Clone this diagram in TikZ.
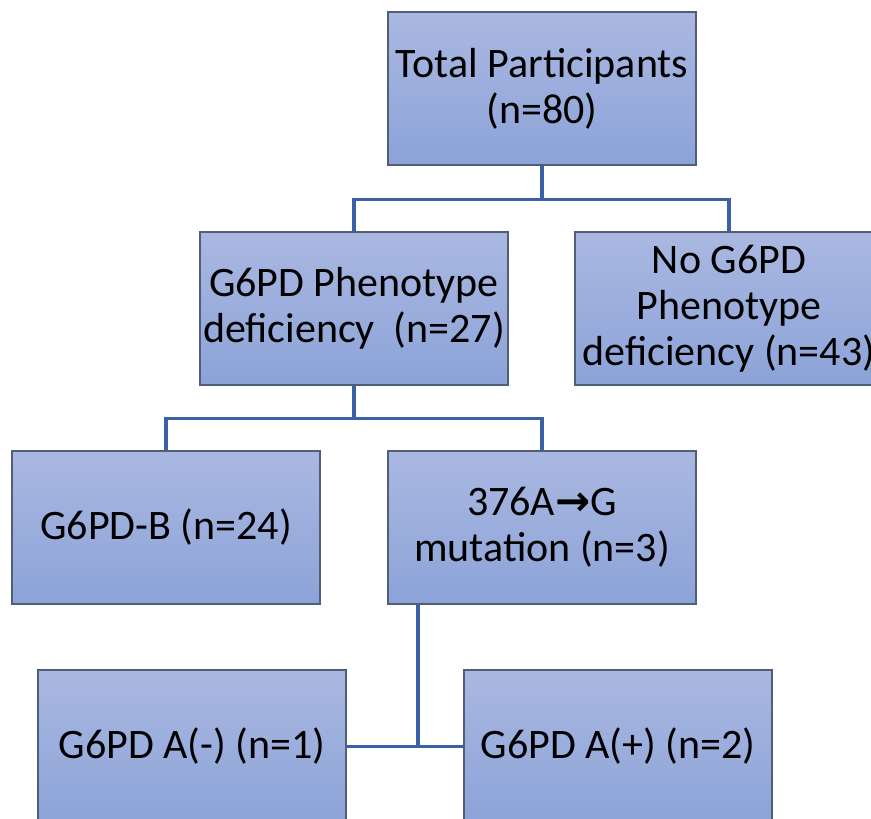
\documentclass[tikz,border=0pt]{standalone}
\usepackage{fontspec}
\setmainfont{Carlito}
\newfontfamily\arrowfont{DejaVu Sans}
\tikzset{every picture/.style={line width=0.75pt}}
\tikzset{
  stagebox/.style={draw={rgb, 255:red, 80; green, 94; blue, 120}, line width=1.1pt,
    top color={rgb, 255:red, 170; green, 184; blue, 225},
    bottom color={rgb, 255:red, 140; green, 163; blue, 216},
    minimum width=231pt, minimum height=114.75pt, inner sep=0pt, align=center,
    font=\fontsize{31.5}{34.5}\selectfont},
  link/.style={draw={rgb, 255:red, 58; green, 96; blue, 165}, line width=2.5pt}
}
\begin{document}
\begin{tikzpicture}[x=0.75pt,y=0.75pt,yscale=-1,xscale=1]
\useasboundingbox (0,0) rectangle (871,818);

% Boxes
\node [stagebox] (total) at (542,88.5) {Total Participants\\(n=80)};
\node [stagebox] (def) at (354,308.5) {G6PD Phenotype\\deficiency\ \ (n=27)};
\node [stagebox] (nodef) at (729,308.5) {No G6PD\\Phenotype\\deficiency (n=43)};
\node [stagebox] (gb) at (166,527.5) {G6PD-B (n=24)};
\node [stagebox] (mut) at (542,527.5) {376A{\arrowfont\bfseries →}G\\mutation (n=3)};
\node [stagebox] (aminus) at (192,746.5) {G6PD A(-) (n=1)};
\node [stagebox] (aplus) at (618,746.5) {G6PD A(+) (n=2)};
\coordinate (split) at (418,745);

% Connectors
\draw [link] (total.south) -- ++(0,34) -| (def.north);
\draw [link] (total.south) -- ++(0,34) -| (nodef.north);
\draw [link] (def.south) -- ++(0,33) -| (gb.north);
\draw [link] (def.south) -- ++(0,33) -| (mut.north);
\draw [link] (mut.south -| split) -- (split);
\draw [link] (aminus.east) -- (aplus.west);

\end{tikzpicture}
\end{document}
